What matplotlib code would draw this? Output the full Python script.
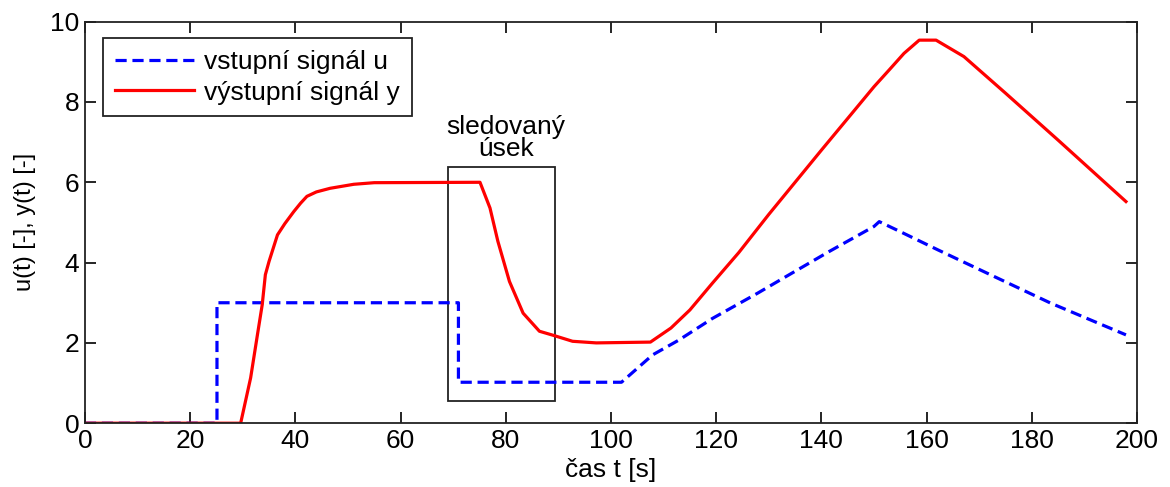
import matplotlib
matplotlib.use("Agg")
import matplotlib.pyplot as plt
from matplotlib.patches import Rectangle

plt.rcParams['font.family'] = ['Liberation Sans', 'DejaVu Sans']

# vstupni signal u
t_u = [0, 25.1, 25.1, 71.0, 71.0, 102.0, 107.9, 112.9, 119.3, 127.9, 134.3,
       141.4, 150.0, 151.0, 155.0, 162.1, 172.9, 183.6, 197.9]
u = [0, 0, 3.0, 3.0, 1.02, 1.02, 1.70, 2.07, 2.61, 3.24, 3.73,
     4.27, 4.90, 5.02, 4.77, 4.32, 3.65, 2.99, 2.20]

# vystupni signal y
t_y = [0, 29.6, 31.5, 32.8, 33.7, 34.3, 35.0, 36.6, 38.0, 39.7, 41.0, 42.2,
       44.0, 46.6, 51.1, 55.0, 75.1, 77.0, 78.5, 80.7, 83.3, 86.4, 89.0,
       92.7, 97.2, 107.5, 111.4, 115.0, 119.3, 124.3, 130.0, 135.0, 140.0,
       145.7, 150.0, 152.9, 155.7, 158.6, 161.8, 167.1, 175.0, 185.0, 197.9]
y = [0, 0, 1.13, 2.21, 2.95, 3.70, 4.03, 4.69, 4.97, 5.27, 5.48, 5.65,
     5.76, 5.85, 5.95, 5.99, 6.0, 5.36, 4.53, 3.53, 2.74, 2.29, 2.19,
     2.04, 2.0, 2.02, 2.37, 2.82, 3.49, 4.25, 5.2, 6.0, 6.8,
     7.7, 8.38, 8.80, 9.21, 9.54, 9.54, 9.13, 8.22, 7.05, 5.52]

# sledovany usek (box)
box_t = (69.0, 89.3)
box_v = (0.56, 6.37)

fs = 19

fig = plt.figure(figsize=(11.7, 4.87), dpi=100)
ax = fig.add_axes([0.0726, 0.131, 0.8992, 0.8245])

ax.plot(t_u, u, color='blue', lw=2.3, dashes=(3.5, 1.8), label='vstupní signál u')
ax.plot(t_y, y, color='red', lw=2.3, label='výstupní signál y')

ax.add_patch(Rectangle((box_t[0], box_v[0]), box_t[1] - box_t[0], box_v[1] - box_v[0],
                       fill=False, edgecolor='#222222', lw=1.3))
ax.text(80, 7.1, 'sledovaný\núsek', ha='center', va='center', fontsize=fs,
        linespacing=0.9)

ax.set_xlim(0, 200)
ax.set_ylim(0, 10)
ax.set_xticks(range(0, 201, 20))
ax.set_yticks(range(0, 11, 2))
ax.tick_params(direction='in', length=8, width=1.2, top=True, right=True,
               labelsize=fs, pad=4)
for s in ax.spines.values():
    s.set_linewidth(1.3)
    s.set_color('#222222')

ax.set_xlabel('čas t [s]', fontsize=fs, labelpad=4)
ax.set_ylabel('u(t) [-], y(t) [-]', fontsize=17, labelpad=10)

leg = ax.legend(loc='upper left', fontsize=fs, fancybox=False, framealpha=1,
                edgecolor='#222222', handlelength=3.0, borderpad=0.45,
                labelspacing=0.25, handletextpad=0.4, borderaxespad=0,
                bbox_to_anchor=(0.017, 0.959))
leg.get_frame().set_linewidth(1.3)

plt.savefig('out.png', dpi=100)
